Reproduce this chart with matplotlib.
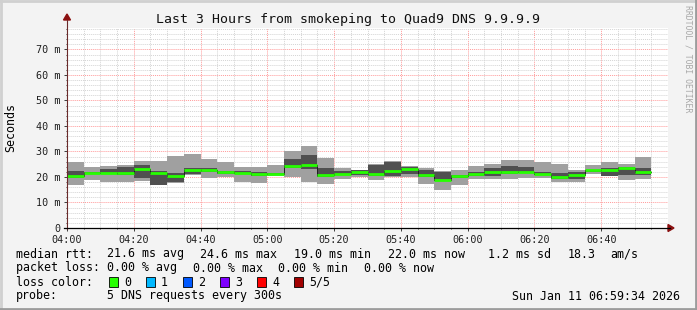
import numpy as np
import pandas as pd
import matplotlib
matplotlib.use("Agg")
import matplotlib.pyplot as plt
import matplotlib.dates as mdates
from matplotlib.patches import Rectangle, Polygon
from matplotlib.lines import Line2D

W, H = 697, 310

# bucket start times (5 min steps)
times = pd.date_range("2026-01-11 04:00", periods=35, freq="5min")

# values in ms
ping_min = [16.7, 18.7, 18.1, 18.1, 18.6, 16.9, 17.8, 20.7, 19.7, 20.0,
            18.1, 17.5, 20.3, 19.9, 18.1, 17.2, 19.2, 20.0, 18.7, 20.0,
            20.0, 17.2, 15.0, 16.8, 19.3, 19.2, 19.4, 19.5, 19.5, 18.0,
            18.0, 21.0, 20.3, 18.7, 19.4]
ping_q1 = [19.7, 21.3, 21.3, 20.8, 19.7, 17.0, 17.9, 21.3, 21.8, 21.3,
           21.0, 20.4, 21.0, 23.7, 23.2, 19.8, 20.9, 20.8, 20.2, 20.5,
           21.0, 20.0, 18.4, 19.7, 20.4, 20.4, 21.2, 21.4, 20.8, 19.3,
           19.3, 21.8, 20.4, 20.8, 20.9]
ping_q3 = [22.4, 22.1, 23.0, 24.0, 24.6, 22.2, 21.6, 23.4, 23.5, 22.4,
           22.3, 21.9, 21.7, 27.0, 28.7, 23.5, 22.3, 22.6, 24.8, 26.0,
           23.9, 22.7, 22.1, 20.9, 21.9, 23.6, 24.2, 23.9, 21.9, 21.7,
           22.1, 22.6, 23.6, 23.9, 23.6]
ping_max = [26.0, 24.1, 24.4, 24.8, 26.1, 26.1, 28.4, 29.2, 27.2, 26.0,
            23.9, 23.8, 24.8, 30.0, 32.1, 27.5, 23.6, 22.7, 24.9, 26.1,
            24.4, 23.6, 22.2, 22.6, 24.2, 25.2, 26.8, 26.8, 25.7, 25.0,
            22.6, 24.8, 25.7, 25.2, 27.9]
median = [20.4, 21.6, 21.6, 21.5, 23.0, 21.4, 20.5, 22.6, 22.6, 21.9,
          21.6, 21.1, 21.3, 24.4, 24.6, 20.6, 21.2, 21.8, 21.0, 22.2,
          23.0, 20.6, 19.0, 20.3, 21.1, 21.8, 22.1, 22.1, 21.3, 20.1,
          20.6, 22.7, 22.8, 23.6, 22.0]

loss_labels = ["0", "1", "2", "3", "4", "5/5"]
loss_colors = ["#26ff00", "#00b8ff", "#0059ff", "#7e00ff", "#ff0000", "#a10000"]

title = "Last 3 Hours from smokeping to Quad9 DNS 9.9.9.9"
line1 = [(16, "median rtt:"), (107, "21.6 ms avg"), (200, "24.6 ms max"),
         (294, "19.0 ms min"), (388, "22.0 ms now"), (488, "1.2 ms sd"),
         (568, "18.3"), (610, "am/s")]
line2 = [(16, "packet loss:"), (107, "0.00 % avg"), (193, "0.00 % max"),
         (278, "0.00 % min"), (364, "0.00 % now")]
probe_text = "5 DNS requests every 300s"
stamp = "Sun Jan 11 06:59:34 2026"

MONO = "DejaVu Sans Mono"
plt.rcParams["font.family"] = MONO


def fx(px):
    return px / W


def fy(py):
    return 1 - py / H


fig = plt.figure(figsize=(W / 100, H / 100), dpi=100, facecolor="#f3f3f3")
ax = fig.add_axes([fx(67), fy(228), 601 / W, 200 / H])
ax.set_facecolor("white")

t0 = pd.Timestamp("2026-01-11 04:00")
t1 = pd.Timestamp("2026-01-11 07:00")
ax.set_xlim(t0, t1)
ax.set_ylim(0, 78.4)

# step edges
edges = list(times) + [times[-1] + pd.Timedelta("5min")]


def ext(v):
    return list(v) + [v[-1]]


ax.fill_between(edges, ext(ping_min), ext(ping_max), step="post",
                color="#a0a0a0", lw=0, zorder=3)
ax.fill_between(edges, ext(ping_q1), ext(ping_q3), step="post",
                color="#505050", lw=0, zorder=4)
# thin dark median line, then green loss-coloured band on top
ax.step(edges, ext(median), where="post", color="#202020", lw=0.7, zorder=5)
ax.hlines(median, edges[:-1], edges[1:], color=loss_colors[0], lw=2.0,
          zorder=6)

# grid
ax.xaxis.set_major_locator(mdates.MinuteLocator(byminute=[0, 20, 40]))
ax.xaxis.set_minor_locator(mdates.MinuteLocator(byminute=range(0, 60, 5)))
ax.xaxis.set_major_formatter(matplotlib.ticker.FuncFormatter(
    lambda v, p: "" if mdates.num2date(v).hour == 7
    else mdates.num2date(v).strftime("%H:%M")))
ax.yaxis.set_major_locator(matplotlib.ticker.MultipleLocator(10))
ax.yaxis.set_minor_locator(matplotlib.ticker.MultipleLocator(2))
ax.yaxis.set_major_formatter(matplotlib.ticker.FuncFormatter(
    lambda v, p: "0" if v == 0 else f"{v:.0f} m"))
ax.grid(which="minor", color="#d4d4d4", lw=0.7, ls=(0, (1, 1)), zorder=1)
ax.grid(which="major", color="#ff9a9a", lw=0.7, ls=(0, (1, 1)), zorder=2)
ax.set_axisbelow(True)

ax.tick_params(which="both", labelsize=7.3, length=2, width=0.6, pad=3,
               colors="#202020")
ax.tick_params(which="minor", length=1)
for s in ["top", "right", "left", "bottom"]:
    ax.spines[s].set_visible(False)

ax.set_ylabel("Seconds", fontsize=8.4, labelpad=13)

# axis lines with arrows
fig.add_artist(Line2D([fx(67), fx(67)], [fy(229), fy(20)], color="#6a2a2a",
                      lw=0.8))
fig.add_artist(Line2D([fx(64), fx(670)], [fy(228), fy(228)], color="black",
                      lw=0.9))
fig.add_artist(Polygon([[fx(63.5), fy(20)], [fx(70.5), fy(20)], [fx(67), fy(14)]],
                       closed=True, color="#8b1010"))
fig.add_artist(Polygon([[fx(668), fy(224.5)], [fx(668), fy(231.5)], [fx(674), fy(228)]],
                       closed=True, color="#8b1010"))

fig.text(0.5, fy(19), title, ha="center", va="center", fontsize=9.5,
         color="#101010")
fig.text(fx(688), fy(5), "RRDTOOL / TOBI OETIKER", rotation=270,
         ha="center", va="top", fontsize=5.9, color="#a8a8a8")

# legend area
for x, s in line1:
    fig.text(fx(x), fy(254), s, ha="left", va="center", fontsize=8.4)
for x, s in line2:
    fig.text(fx(x), fy(268), s, ha="left", va="center", fontsize=8.4)
fig.text(fx(16), fy(282), "loss color:", ha="left", va="center", fontsize=8.4)
box_x = [109, 146, 183, 220, 257, 294]
for bx, lab, col in zip(box_x, loss_labels, loss_colors):
    fig.add_artist(Rectangle((fx(bx), fy(287)), 9 / W, 10 / H, facecolor=col,
                             edgecolor="black", lw=0.6))
    fig.text(fx(bx + 15), fy(282), lab, ha="left", va="center", fontsize=8.4)
fig.text(fx(16), fy(296), "probe:", ha="left", va="center", fontsize=8.4)
fig.text(fx(107), fy(296), probe_text, ha="left", va="center", fontsize=8.4)
fig.text(fx(680), fy(296), stamp, ha="right", va="center", fontsize=8.4)

# frame
fig.add_artist(Line2D([0, 1], [fy(1), fy(1)], color="#d0d0d0", lw=2))
fig.add_artist(Line2D([fx(1), fx(1)], [0, 1], color="#d0d0d0", lw=2))
fig.add_artist(Line2D([0, 1], [fy(309), fy(309)], color="#9c9c9c", lw=2))
fig.add_artist(Line2D([fx(696), fx(696)], [0, 1], color="#9c9c9c", lw=2))

fig.savefig("out.png", dpi=100, facecolor=fig.get_facecolor())
